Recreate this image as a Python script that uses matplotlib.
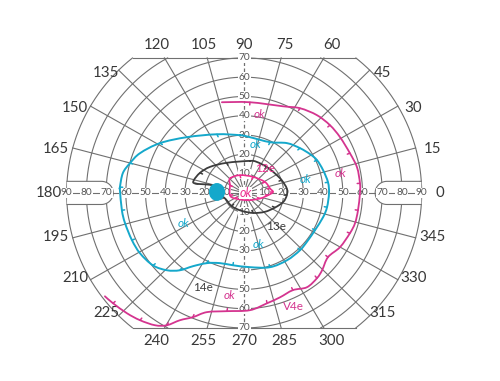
import numpy as np
import matplotlib
matplotlib.use("Agg")
import matplotlib.pyplot as plt
from matplotlib.patches import Ellipse, Polygon, PathPatch
from matplotlib.path import Path

plt.rcParams['font.family'] = ['Lato', 'DejaVu Sans']

# isopters, visual field degrees (x = temporal/nasal, y = up/down)
v4e_x = [-11.3, 2.9, 19.7, 28.3, 36.9, 43.5, 48.6, 53.6, 57.2, 58.7, 58.7, 57.7, 56.2, 53.6,
         48.6, 42.5, 39.5, 36.9, 31.8, 24.7, 18.2, 11.6, 2.9, -8.7, -18.9, -26.0, -32.6,
         -39.2, -45.2, -52.8, -59.4, -66.5, -70.6]
v4e_y = [47.0, 47.0, 44.9, 43.9, 40.3, 35.1, 28.9, 20.6, 13.3, 5.0, -0.2, -9.0, -15.7, -20.9,
         -28.1, -33.3, -40.1, -44.2, -48.9, -50.4, -54.1, -57.2, -60.8, -61.3, -61.8, -64.4,
         -66.0, -68.6, -68.6, -66.0, -62.4, -57.2, -53.6]

i4e_x = [-2.1, -13.8, -29.0, -42.7, -52.8, -57.9, -61.5, -63.0, -63.0, -62.0, -60.4, -56.9,
         -52.8, -46.2, -39.1, -32.6, -26.0, -18.9, -12.3, -5.7, 2.9, 13.1, 21.7, 28.3, 32.4,
         35.9, 40.0, 42.0, 43.0, 42.5, 40.0, 36.9, 33.4, 28.3, 21.7, 13.1, 2.9, -2.1]
i4e_y = [29.9, 30.4, 28.9, 25.8, 20.6, 15.4, 10.3, 3.0, 1.4, -9.0, -15.7, -24.5, -31.3, -37.6,
         -40.1, -40.1, -38.0, -36.4, -36.4, -37.5, -38.5, -38.5, -34.9, -29.7, -24.5, -19.3,
         -12.6, -7.4, -0.2, 5.5, 11.8, 17.0, 20.1, 23.2, 25.8, 26.3, 28.9, 29.9]

i3e_x = [2.9, -8.9, -17.3, -22.4, -25.5, -24.9, -16.5, -14.8, -9.7, -6.3, -1.3, 4.6, 10.5,
         15.6, 19.8, 21.6, 21.6, 19.0, 15.6, 11.4, 6.3, 2.9]
i3e_y = [16.6, 15.6, 13.5, 10.4, 6.6, 4.9, 4.0, 1.4, -2.9, -6.9, -9.3, -10.4, -9.8, -7.6,
         -4.7, -1.2, 2.3, 6.6, 10.1, 13.5, 16.1, 16.6]

i2e_x = [-7.2, -2.1, 4.5, 10.5, 13.1, 14.6, 12.1, 8.0, 1.9, -4.7, -7.2, -7.2, -7.2]
i2e_y = [7.5, 9.2, 8.3, 5.7, 2.3, 0.5, -1.2, -2.9, -3.8, -2.9, -1.2, 4.0, 7.5]

blind_spot = (-13.8, 0.5)

angle_labels = list(range(0, 360, 15))
ring_labels = [10, 20, 30, 40, 50, 60, 70, 80, 90]

GRID = '#707070'
MAG = '#d4348f'
PINK = '#ec2f8f'
CYAN = '#15a8cb'
DARK = '#3c3c3c'


def smooth_path(xs, ys):
    # Catmull-Rom through the points, drawn as cubic bezier segments
    p = np.column_stack([xs, ys]).astype(float)
    closed = np.allclose(p[0], p[-1])
    n = len(p)
    verts = [p[0]]
    codes = [Path.MOVETO]
    for i in range(n - 1):
        if closed:
            p0 = p[i - 1] if i > 0 else p[-2]
            p3 = p[i + 2] if i + 2 < n else p[1]
        else:
            p0 = p[max(i - 1, 0)]
            p3 = p[min(i + 2, n - 1)]
        p1, p2 = p[i], p[i + 1]
        verts += [p1 + (p2 - p0) / 6, p2 - (p3 - p1) / 6, p2]
        codes += [Path.CURVE4] * 3
    return Path(verts, codes)


fig = plt.figure(figsize=(5, 3.81), dpi=100)
ax = fig.add_axes([0, 0, 1, 1])
ax.set_xlim(-123.8, 129.7)
ax.set_ylim(-97.5, 100.0)
ax.axis('off')

# concentric rings clipped at +-70 vertically
t = np.linspace(0, 2 * np.pi, 1441)
for r in ring_labels:
    x = r * np.cos(t)
    y = r * np.sin(t)
    y = np.where(np.abs(y) > 70, np.nan, y)
    ax.plot(x, y, color=GRID, lw=0.8, zorder=1)

xe = np.sqrt(90**2 - 70**2)
ax.plot([-xe, xe], [70, 70], color=GRID, lw=0.8, zorder=1)
ax.plot([-xe, xe], [-70, -70], color=GRID, lw=0.8, zorder=1)

# radial meridians
for a in angle_labels:
    if a % 90 == 0:
        continue
    th = np.radians(a)
    rend = min(90, 70 / abs(np.sin(th)))
    ax.plot([3 * np.cos(th), rend * np.cos(th)], [3 * np.sin(th), rend * np.sin(th)],
            color=GRID, lw=0.8, zorder=1)

# boxes on the horizontal meridian
for s in (-1, 1):
    h = 6.0
    cx = 72.4
    ang = np.linspace(-np.pi / 2, np.pi / 2, 40)
    xcap = s * (cx - h * np.cos(ang))
    ycap = h * np.sin(ang)
    x0 = s * np.sqrt(90**2 - h**2)
    px = np.concatenate([[x0], xcap, [x0]])
    py = np.concatenate([[-h], ycap, [h]])
    ax.add_patch(Polygon(np.column_stack([px, py]), closed=True, facecolor='white',
                         edgecolor='none', zorder=2))
    ax.plot(px, py, color=GRID, lw=0.8, zorder=2.5)

# horizontal meridian with values
ax.plot([-90, 90], [0, 0], color=GRID, lw=0.8, zorder=2.6)
for v in ring_labels:
    for s in (-1, 1):
        ax.text(s * v, 0, str(v), ha='center', va='center', fontsize=7.3, color='#555555',
                zorder=3, bbox=dict(facecolor='white', edgecolor='none', pad=0.5))

# vertical meridian dashed, with values
ax.plot([0, 0], [-70, 70], color=GRID, lw=0.9, dashes=(3, 2), zorder=1)
for v in ring_labels[:7]:
    for s in (-1, 1):
        ax.text(0, s * v, str(v), ha='center', va='center', fontsize=7.3, color='#555555',
                zorder=3, bbox=dict(facecolor='white', edgecolor='none', pad=0.4))

# meridian angle labels
for a in angle_labels:
    th = np.radians(a)
    if abs(np.sin(th)) * 90 > 70.5:
        yl = 76.8 * np.sign(np.sin(th))
        xl = yl / np.tan(th)
    else:
        xl = 99 * np.cos(th)
        yl = 99 * np.sin(th) * 0.89
    ax.text(xl, yl, str(a), ha='center', va='center', fontsize=10.8, color='#383838', zorder=3)

# isopters
for xs, ys, c, lw in [(v4e_x, v4e_y, MAG, 1.3), (i4e_x, i4e_y, CYAN, 1.4),
                      (i3e_x, i3e_y, DARK, 1.3), (i2e_x, i2e_y, PINK, 1.2)]:
    ax.add_patch(PathPatch(smooth_path(xs, ys), facecolor='none', edgecolor=c, lw=lw,
                           zorder=4, joinstyle='round', capstyle='round'))

# inward ticks on the isopters
for xs, ys, c, step in [(v4e_x, v4e_y, MAG, 2), (i4e_x, i4e_y, CYAN, 2),
                        (i3e_x, i3e_y, DARK, 2), (i2e_x, i2e_y, PINK, 1)]:
    xs = np.array(xs)
    ys = np.array(ys)
    for i in range(1, len(xs) - 1, step):
        r = np.hypot(xs[i], ys[i])
        ux, uy = xs[i] / r, ys[i] / r
        ax.plot([xs[i], xs[i] - 1.4 * ux], [ys[i], ys[i] - 1.4 * uy], color=c, lw=1.1,
                zorder=4, solid_capstyle='round')

ax.add_patch(Ellipse(blind_spot, 7.5, 8.5, facecolor=CYAN, edgecolor=CYAN, zorder=4))

# annotations
notes = [
    (8.0, 40.5, 'ok', MAG), (6.0, 25.0, 'ok', CYAN), (10.5, 12.7, '12e', PINK),
    (0.8, 0.0, 'ok', PINK), (31.0, 6.7, 'ok', CYAN), (48.8, 10.3, 'ok', MAG),
    (-31.0, -15.6, 'ok', CYAN), (16.0, -17.6, '13e', DARK), (7.5, -26.5, 'ok', CYAN),
    (-21.0, -49.2, '14e', DARK), (-7.2, -53.2, 'ok', MAG), (24.8, -59.0, 'V4e', MAG),
]
for x, y, s, c in notes:
    style = 'italic' if s == 'ok' else 'normal'
    bb = dict(facecolor='white', edgecolor='none', pad=0.3) if s == 'ok' and y == 0.0 else None
    ax.text(x, y, s, ha='center', va='center', fontsize=9 if y == 0.0 else 8.5, color=c,
            style=style, zorder=5, bbox=bb)

fig.savefig('out.png', dpi=100)
